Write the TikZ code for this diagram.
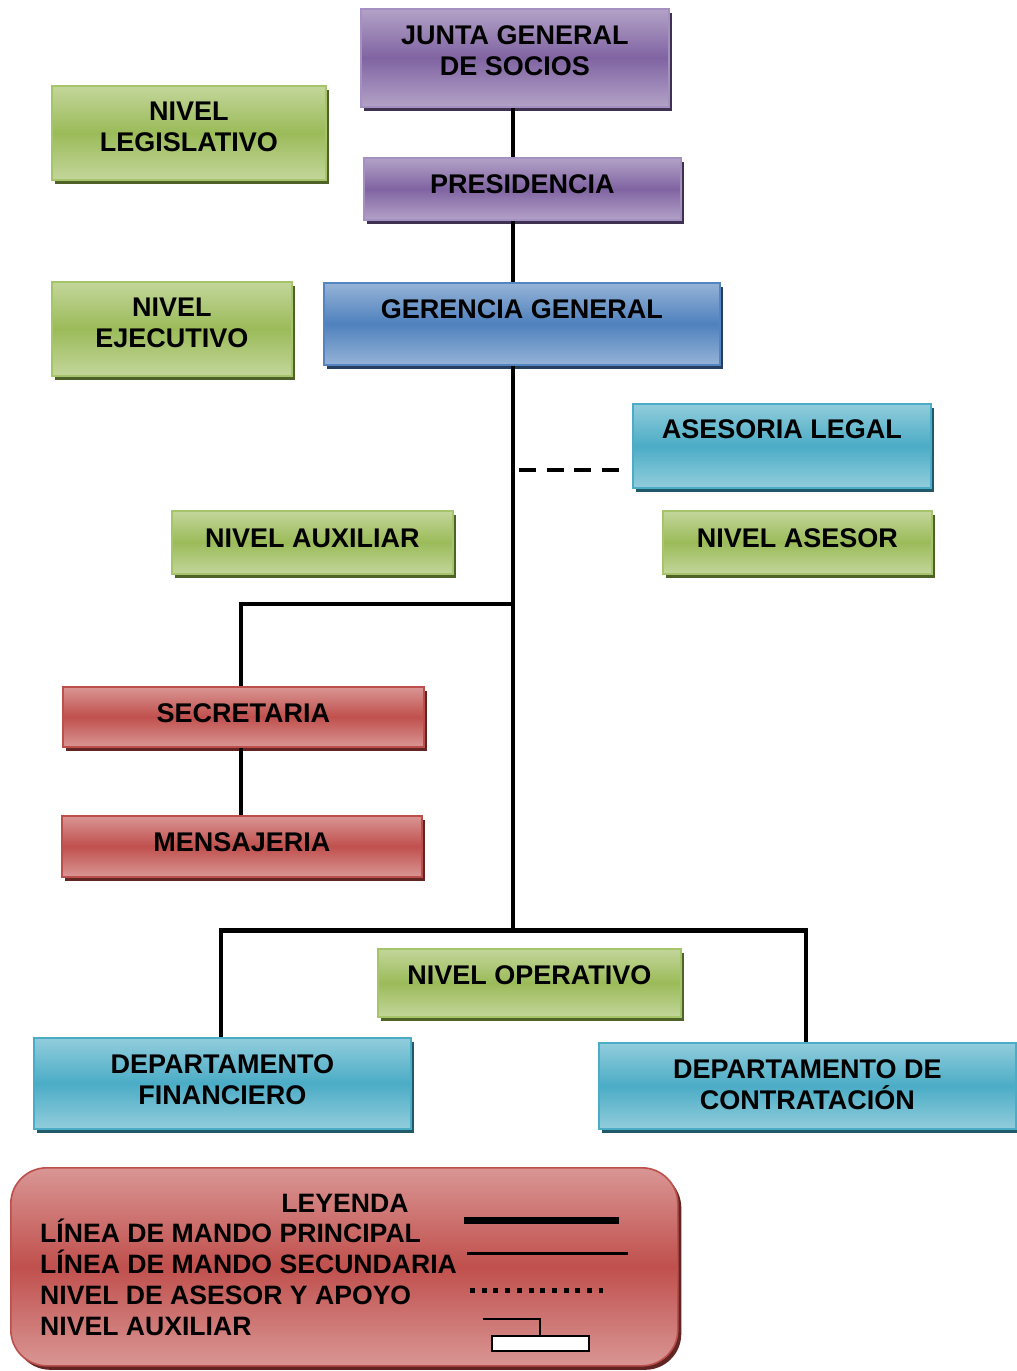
\documentclass[tikz,border=0pt]{standalone}
\usepackage{fontspec}
\setmainfont{Liberation Sans}
\usetikzlibrary{shadows}

% Office-style palette: light edge, dark middle, border, shadow
\definecolor{purL}{HTML}{B3A2C7}
\definecolor{purD}{HTML}{8064A2}
\definecolor{purB}{HTML}{A491C2}
\definecolor{purS}{HTML}{3F3151}
\definecolor{grnL}{HTML}{C3D69B}
\definecolor{grnD}{HTML}{9BBB59}
\definecolor{grnB}{HTML}{A6C46A}
\definecolor{grnS}{HTML}{4F6228}
\definecolor{bluL}{HTML}{95B3D7}
\definecolor{bluD}{HTML}{4F81BD}
\definecolor{bluB}{HTML}{5585C0}
\definecolor{bluS}{HTML}{243F60}
\definecolor{cyaL}{HTML}{92CDDC}
\definecolor{cyaD}{HTML}{4BACC6}
\definecolor{cyaB}{HTML}{4BACC6}
\definecolor{cyaS}{HTML}{215968}
\definecolor{redL}{HTML}{D99694}
\definecolor{redD}{HTML}{C0504D}
\definecolor{redB}{HTML}{BC4F4C}
\definecolor{redS}{HTML}{632523}

\tikzset{
  unit box/.style n args={4}{rectangle, anchor=north west, inner sep=0pt,
    line width=1.6pt, top color=#1, bottom color=#1, middle color=#2, draw=#3,
    general shadow={fill=#4, shadow xshift=3.5pt, shadow yshift=-4pt}},
  purplebox/.style={unit box={purL}{purD}{purB}{purS}},
  greenbox/.style={unit box={grnL}{grnD}{grnB}{grnS}},
  bluebox/.style={unit box={bluL}{bluD}{bluB}{bluS}},
  cyanbox/.style={unit box={cyaL}{cyaD}{cyaB}{cyaS}},
  redbox/.style={unit box={redL}{redD}{redB}{redS}},
  wh/.style 2 args={minimum width=#1pt, minimum height=#2pt},
  lbl/.style={font=\bfseries\fontsize{27}{31}\selectfont, inner sep=0pt, align=center},
  leglbl/.style={font=\bfseries\fontsize{26.6}{31}\selectfont, inner sep=0pt},
  mainline/.style={line width=3.4pt},
  barline/.style={line width=5pt},
  advline/.style={line width=3.4pt, dash pattern=on 17pt off 10.5pt},
}

\begin{document}
\begin{tikzpicture}[x=1pt, y=-1pt]
\useasboundingbox (0,0) rectangle (1017,1371);
\fill[white] (0,0) rectangle (1017,1371);

% ---------- boxes ----------
\node[purplebox, wh={308}{98}]  (junta)    at (360,8)    {};
\node[purplebox, wh={317}{62}]  (pres)     at (363,157)  {};
\node[greenbox,  wh={274}{94}]  (legis)    at (51,85)    {};
\node[greenbox,  wh={240}{94}]  (ejec)     at (51,281)   {};
\node[bluebox,   wh={396}{82}]  (ger)      at (323,282)  {};
\node[cyanbox,   wh={298}{84}]  (aseso)    at (632,403)  {};
\node[greenbox,  wh={269}{63}]  (nivaseso) at (662,510)  {};
\node[greenbox,  wh={281}{63}]  (nivaux)   at (171,510)  {};
\node[redbox,    wh={361}{60}]  (secre)    at (62,686)   {};
\node[redbox,    wh={360}{61}]  (mensa)    at (61,815)   {};
\node[greenbox,  wh={303}{68}]  (oper)     at (377,948)  {};
\node[cyanbox,   wh={377}{91}]  (fin)      at (33,1037)  {};
\node[cyanbox,   wh={417}{86}]  (cont)     at (598,1042) {};

% ---------- connectors ----------
\coordinate (spine)   at (513,0);
\coordinate (auxjoin) at (513,604);
\coordinate (auxcorner) at (241,604);
\coordinate (barmid)  at (513,930);
\coordinate (barL)    at (221,930);
\coordinate (barR)    at (806,930);
\coordinate (advjoin) at (519,470);
\coordinate (advend)  at (620,470);

\draw[mainline] (junta.south -| spine) -- (pres.north -| spine);
\draw[mainline] (pres.south -| spine) -- (ger.north -| spine);
\draw[mainline] (ger.south -| spine) -- (barmid);
\draw[mainline] (auxjoin) -- (auxcorner) -- (auxcorner |- secre.north);
\draw[mainline] (secre.south -| auxcorner) -- (mensa.north -| auxcorner);
\draw[barline] ([xshift=-1.7pt]barL) -- ([xshift=1.7pt]barR);
\draw[mainline] (barL) -- (barL |- fin.north);
\draw[mainline] (barR) -- (barR |- cont.north);
\draw[advline] (advjoin) -- (advend);

% ---------- labels ----------
\node[lbl] (junta-t) at (junta |- 0,50.5) {JUNTA GENERAL\\DE SOCIOS};
\node[lbl, anchor=base] (pres-t) at (pres |- 0,193) {PRESIDENCIA};
\node[lbl] (legis-t) at (legis |- 0,126.5) {NIVEL\\LEGISLATIVO};
\node[lbl] (ejec-t) at (ejec |- 0,323) {NIVEL\\EJECUTIVO};
\node[lbl, anchor=base] (ger-t) at (ger |- 0,318) {GERENCIA GENERAL};
\node[lbl, anchor=base] (aseso-t) at (aseso |- 0,438) {ASESORIA LEGAL};
\node[lbl, anchor=base] (nivaseso-t) at (nivaseso |- 0,547) {NIVEL ASESOR};
\node[lbl, anchor=base] (nivaux-t) at (nivaux |- 0,547) {NIVEL AUXILIAR};
\node[lbl, anchor=base] (secre-t) at (secre |- 0,722) {SECRETARIA};
\node[lbl, anchor=base] (mensa-t) at (mensa |- 0,851) {MENSAJERIA};
\node[lbl, anchor=base] (oper-t) at (oper |- 0,984) {NIVEL OPERATIVO};
\node[lbl] (fin-t) at (fin |- 0,1079.5) {DEPARTAMENTO\\FINANCIERO};
\node[lbl] (cont-t) at (cont |- 0,1084.5) {DEPARTAMENTO DE\\CONTRATACIÓN};

% ---------- legend ----------
\node[redbox, wh={667}{198}, rounded corners=36pt] (legend) at (10,1167) {};
\node[leglbl, anchor=base] (leg-title) at (345,1212) {LEYENDA};
\node[leglbl, anchor=base west] (leg-a) at (40,1242) {LÍNEA DE MANDO PRINCIPAL};
\node[leglbl, anchor=base west] (leg-b) at (40,1273) {LÍNEA DE MANDO SECUNDARIA};
\node[leglbl, anchor=base west] (leg-c) at (40,1304) {NIVEL DE ASESOR Y APOYO};
\node[leglbl, anchor=base west] (leg-d) at (40,1335) {NIVEL AUXILIAR};

\draw[line width=7.5pt] (464,1220.5) -- (619,1220.5);
\draw[line width=2.2pt] (467,1253.5) -- (628,1253.5);
\draw[line width=5pt, dash pattern=on 5pt off 6.7pt] (470,1290) -- (603,1290);
\node[draw=black, fill=white, line width=2pt, inner sep=0pt, anchor=north west,
      wh={97}{15}] (auxsample) at (491,1335) {};
\draw[line width=1.8pt] (483,1319) -| (auxsample.north -| 540,0);
\end{tikzpicture}
\end{document}
